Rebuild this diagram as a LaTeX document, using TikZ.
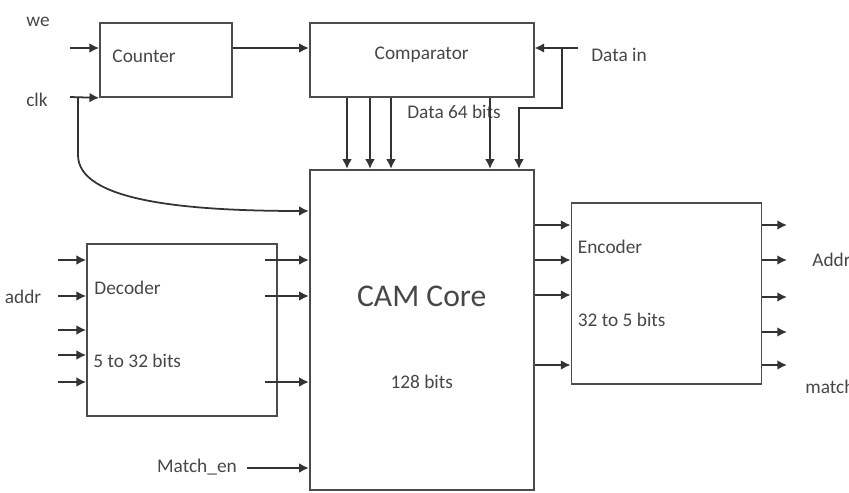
\documentclass[tikz,border=0pt]{standalone}
\usepackage{fontspec}
\setmainfont{Carlito}
\usepackage{tikz}
\usetikzlibrary{arrows,arrows.meta,positioning,calc}

\begin{document}
\begin{tikzpicture}[x=0.02cm, y=-0.02cm,
  blk/.style={rectangle, draw=black!70, line width=1pt, inner sep=0pt},
  txt/.style={text=black!72, font=\fontsize{11}{13}\selectfont, inner sep=0pt},
  arrow/.style={->, >={Latex[length=5.5pt, width=5.5pt]}, line width=1pt, draw=black!80}
]
\useasboundingbox (0,0) rectangle (849,493);

% blocks
\node[blk, minimum width=2.64cm, minimum height=1.48cm] (counter) at (166,60) {};
\node[blk, minimum width=4.48cm, minimum height=1.48cm] (comp) [right=1.52cm of counter] {};
\node[blk, minimum width=4.48cm, minimum height=6.4cm] (cam) [below=1.42cm of comp] {};
\node[blk, minimum width=3.8cm, minimum height=3.44cm] (dec) [left=0.62cm of cam] {};
\node[blk, minimum width=3.8cm, minimum height=3.62cm] (enc) [right=0.72cm of cam, yshift=0.73cm] {};

% block texts
\node[txt, anchor=west] (counter_txt) at ([xshift=0.26cm, yshift=0.08cm]counter.west) {Counter};
\node[txt] (comp_txt) at ([yshift=0.1cm]comp.center) {Comparator};
\node[txt, font=\fontsize{18}{22}\selectfont] (cam_txt) at ([yshift=0.66cm]cam.center) {CAM Core};
\node[txt] (cam_bits) at ([yshift=-1.04cm]cam.center) {128 bits};
\node[txt, anchor=west] (dec_txt) at ([xshift=0.16cm, yshift=0.84cm]dec.west) {Decoder};
\node[txt, anchor=west] (dec_bits) at ([xshift=0.14cm, yshift=-0.62cm]dec.west) {5 to 32 bits};
\node[txt, anchor=west] (enc_txt) at ([xshift=0.14cm, yshift=0.93cm]enc.west) {Encoder};
\node[txt, anchor=west] (enc_bits) at ([xshift=0.14cm, yshift=-0.53cm]enc.west) {32 to 5 bits};

% signal names
\node[txt] (we_lbl) at (38,22) {we};
\node[txt] (clk_lbl) at (37,100) {clk};
\node[txt] (addr_lbl) at (23,297) {addr};
\node[txt] (men_lbl) at (197,467) {Match\_en};
\node[txt, anchor=west] (din_lbl) at (591,55) {Data in};
\node[txt] (d64_lbl) at (454,112) {Data 64 bits};
\node[txt, anchor=west] (addr_out) at (812,260) {Addr};
\node[txt, anchor=west] (match_out) at (805,387) {match};

% counter and comparator
\coordinate (we) at (70,48);
\coordinate (clk) at (70,97);
\draw[arrow] (we) -- (we -| counter.west);
\draw[arrow] (clk) -- (counter.south west);
\coordinate (clk_br) at (78,97);
\coordinate (clk_in) at (308,211);
\draw[arrow] (clk_br) -- (78,155) .. controls (78,200) and (180,211) .. (clk_in -| cam.west);
\draw[arrow] ([yshift=0.24cm]counter.east) -- ([yshift=0.24cm]comp.west);

\coordinate (din) at (578,48);
\draw[arrow] (din) -- (din -| comp.east);
\coordinate (din_br) at (562,48);
\coordinate (din_turn) at (519,108);
\draw[arrow] (din_br) |- (din_turn) -- (din_turn |- cam.north);

\foreach \x in {347,370,391,490} {
  \coordinate (bus\x) at (\x,0);
  \draw[arrow] (bus\x |- comp.south) -- (bus\x |- cam.north);
}

% decoder
\foreach \y [count=\i] in {260,296,330,355,382} {
  \coordinate (a\i) at (58,\y);
  \draw[arrow] (a\i) -- (a\i -| dec.west);
}
\foreach \y [count=\i] in {260,296,382} {
  \coordinate (dq\i) at (265,\y);
  \draw[arrow] (dq\i) -- (dq\i -| cam.west);
}
\coordinate (men) at (247,468);
\draw[arrow] (men) -- (men -| cam.west);

% encoder
\foreach \y [count=\i] in {225,260,295,365} {
  \coordinate (eq\i) at (540,\y);
  \draw[arrow] (eq\i -| cam.east) -- (eq\i -| enc.west);
}
\foreach \y [count=\i] in {225,260,297,332,365} {
  \coordinate (o\i) at (787,\y);
  \draw[arrow] (o\i -| enc.east) -- (o\i);
}

\end{tikzpicture}
\end{document}
